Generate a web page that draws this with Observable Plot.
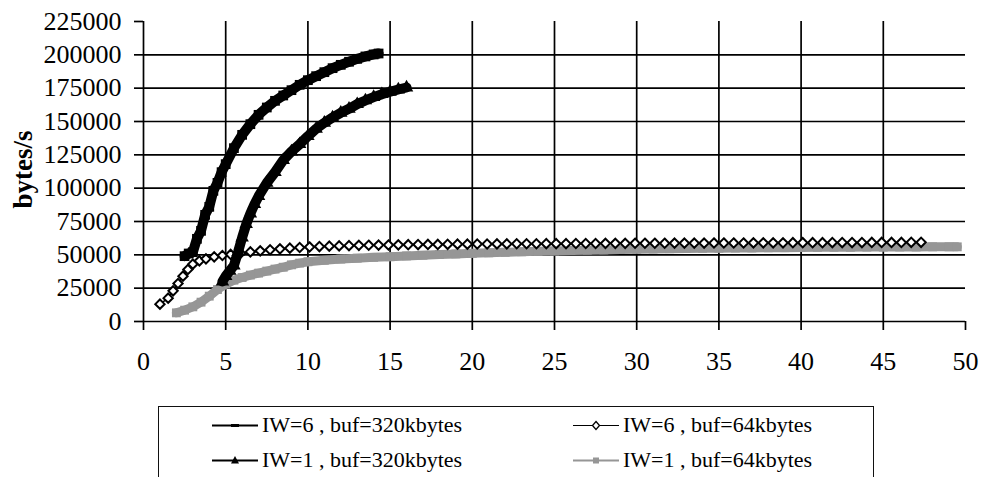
<!DOCTYPE html>
<html><head><meta charset="utf-8">
<script src="https://cdn.jsdelivr.net/npm/d3@7"></script>
<script src="https://cdn.jsdelivr.net/npm/@observablehq/plot@0.6"></script>
<style>
body{margin:0;background:#fff;}
#wrap{position:relative;width:987px;height:477px;overflow:hidden;font-family:"Liberation Serif","Times New Roman",serif;background:#fff;}
#legend{position:absolute;left:158px;top:406px;width:716px;height:110px;border:1.5px solid #111;box-sizing:border-box;}
.item{position:absolute;display:flex;align-items:center;font-size:22px;white-space:nowrap;height:30px;color:#000;}
.item svg{margin-right:4px;}
</style></head><body>
<div id="wrap"><div id="chart"></div><div id="legend"></div></div>
<script>
// ---- data ----
const xTicks = [0, 5, 10, 15, 20, 25, 30, 35, 40, 45, 50];
const yTicks = [0, 25000, 50000, 75000, 100000, 125000, 150000, 175000, 200000, 225000];
const xGrid = [5, 10, 15, 20, 25, 30, 35, 40, 45];
const yGrid = [25000, 50000, 75000, 100000, 125000, 150000, 175000, 200000];

const seriesNames = ["IW=6 , buf=320kbytes", "IW=6 , buf=64kbytes", "IW=1 , buf=320kbytes", "IW=1 , buf=64kbytes"];

// IW=6, buf=320kbytes  [time, bytes/s]
const iw6buf320 = [[2.5,49000],[2.75,51000],[3.0,52000],[3.25,62000],[3.5,68000],[3.75,80000],[4.0,86000],[4.25,98000],[4.5,104000],[4.75,112000],[5.0,118000],[5.5,130000],[6.0,140000],[6.5,148000],[7.0,155000],[7.5,160500],[8.0,165500],[8.5,169500],[9.0,173500],[9.5,177500],[10.0,181000],[10.5,184000],[11.0,187000],[11.5,190000],[12.0,192500],[12.5,194800],[13.0,197000],[13.5,198800],[14.0,200300],[14.3,201000]];

// IW=6, buf=64kbytes
const iw6buf64 = [[1.0,13000],[1.5,17500],[1.8,23000],[2.1,28500],[2.4,34000],[2.7,39000],[3.0,43000],[3.4,45500],[3.8,47000],[4.3,48500],[4.8,49500],[5.3,50300],[5.9,51200],[6.5,52200],[7.1,53000],[7.7,53800],[8.3,54500],[8.9,55000],[9.5,55500],[10.1,55900],[10.7,56200],[11.3,56500],[11.9,56700],[12.5,56900],[13.1,57100],[13.7,57200],[14.3,57300],[14.9,57400],[15.5,57500],[16.1,57600],[16.7,57700],[17.3,57800],[17.9,57800],[18.5,57900],[19.1,58000],[19.7,58000],[20.3,58100],[20.9,58100],[21.5,58200],[22.1,58200],[22.7,58300],[23.3,58300],[23.9,58300],[24.5,58400],[25.1,58400],[25.7,58400],[26.3,58500],[26.9,58500],[27.5,58500],[28.1,58600],[28.7,58600],[29.3,58600],[29.9,58700],[30.5,58700],[31.1,58700],[31.7,58700],[32.3,58800],[32.9,58800],[33.5,58800],[34.1,58800],[34.7,58900],[35.3,58900],[35.9,58900],[36.5,58900],[37.1,59000],[37.7,59000],[38.3,59000],[38.9,59000],[39.5,59100],[40.1,59100],[40.7,59100],[41.3,59100],[41.9,59200],[42.5,59200],[43.1,59200],[43.7,59200],[44.3,59300],[44.9,59300],[45.5,59300],[46.1,59300],[46.7,59400],[47.3,59400]];

// IW=1, buf=320kbytes
const iw1buf320 = [[4.8,30000],[5.0,34000],[5.25,38000],[5.5,42000],[5.75,52000],[6.0,63000],[6.25,73000],[6.5,81000],[6.75,88000],[7.0,94000],[7.5,104000],[8.0,112000],[8.5,121000],[9.0,127500],[9.5,133000],[10.0,139000],[10.5,144500],[11.0,149000],[11.5,153000],[12.0,156500],[12.5,159500],[13.0,163000],[13.5,165800],[14.0,168300],[14.5,170500],[15.0,172300],[15.5,174000],[16.0,175500]];

// IW=1, buf=64kbytes
const iw1buf64 = [[2.0,6500],[2.5,8500],[3.0,11000],[3.5,14500],[4.0,19000],[4.5,24000],[5.0,28000],[5.5,31000],[6.0,33000],[6.5,34800],[7.0,36300],[7.5,37800],[8.0,39300],[8.5,40700],[9.0,42500],[9.5,43800],[10,44800],[11,45900],[12,46800],[13,47500],[14,48100],[15,48600],[16,49200],[17,49700],[18,50200],[19,50700],[20,51100],[21,51500],[22,51900],[23,52300],[24,52600],[25,52900],[26,53200],[27,53500],[28,53700],[29,54000],[30,54200],[31,54400],[32,54600],[33,54700],[34,54900],[35,55000],[36,55100],[37,55200],[38,55300],[39,55400],[40,55500],[41,55600],[42,55700],[43,55700],[44,55800],[45,55800],[46,55900],[47,55900],[48,56000],[49,56000],[49.5,56000]];

// ---- build ----
const rows = (pairs) => pairs.map(([t, v]) => ({t, v}));
const s6_320 = rows(iw6buf320), s6_64 = rows(iw6buf64), s1_320 = rows(iw1buf320), s1_64 = rows(iw1buf64);
const GRAY = "#969696";

const chart = Plot.plot({
  width: 987, height: 400,
  marginLeft: 143, marginRight: 22, marginTop: 21, marginBottom: 79,
  x: {domain: [0, 50]},
  y: {domain: [0, 225000]},
  style: {fontFamily: "'Liberation Serif', 'Times New Roman', serif", fontSize: "26px", background: "white", color: "black"},
  marks: [
    Plot.ruleY(yGrid, {x1: 0, x2: 50, stroke: "#000", strokeWidth: 1.7}),
    Plot.ruleX(xGrid, {y1: 0, y2: 225000, stroke: "#000", strokeWidth: 1.7}),
    Plot.ruleX([0], {y1: 0, y2: 225000, stroke: "#000", strokeWidth: 1.7}),
    Plot.ruleY([0], {x1: 0, x2: 50, stroke: "#000", strokeWidth: 1.7}),
    Plot.axisY({ticks: yTicks, tickSize: 9, tickPadding: 13, tickFormat: d3.format("d"), label: null, fontSize: 26, strokeWidth: 1.7}),
    Plot.axisX({ticks: xTicks, tickSize: 9, tickPadding: 21, tickFormat: d3.format("d"), label: null, fontSize: 26, strokeWidth: 1.7}),
    // IW=1, 64k (gray squares)
    Plot.line(s1_64, {x: "t", y: "v", stroke: GRAY, strokeWidth: 9}),
    Plot.dot(s1_64, {x: "t", y: "v", symbol: "square", fill: GRAY, r: 5}),
    // IW=6, 64k (diamonds)
    Plot.line(s6_64, {x: "t", y: "v", stroke: "#000", strokeWidth: 1.5}),
    Plot.dot(s6_64, {x: "t", y: "v", symbol: "diamond2", fill: "white", stroke: "#000", strokeWidth: 2, r: 4.2}),
    // IW=1, 320k (triangles)
    Plot.line(s1_320, {x: "t", y: "v", stroke: "#000", strokeWidth: 10}),
    Plot.dot(s1_320, {x: "t", y: "v", symbol: "triangle", fill: "#000", r: 5}),
    // IW=6, 320k
    Plot.line(s6_320, {x: "t", y: "v", stroke: "#000", strokeWidth: 10}),
    Plot.dot(s6_320, {x: "t", y: "v", symbol: "square", fill: "#000", r: 5.5}),
    Plot.text(["bytes/s"], {frameAnchor: "left", textAnchor: "middle", rotate: -90, dx: -120, dy: -2, fontWeight: "bold", fontSize: 27})
  ]
});
document.getElementById("chart").appendChild(chart);

// ---- legend ----
const legendSpecs = [
  {name: seriesNames[0], col: 0, row: 0, stroke: "#000", w: 2, marker: "dash"},
  {name: seriesNames[1], col: 1, row: 0, stroke: "#000", w: 1.2, marker: "diamond"},
  {name: seriesNames[2], col: 0, row: 1, stroke: "#000", w: 2, marker: "triangle"},
  {name: seriesNames[3], col: 1, row: 1, stroke: GRAY, w: 2, marker: "square"}
];
const legend = document.getElementById("legend");
for (const s of legendSpecs) {
  const div = document.createElement("div");
  div.className = "item";
  div.style.left = (s.col ? 414 : 53) + "px";
  div.style.top = (s.row ? 38 : 3) + "px";
  let m = "";
  if (s.marker === "dash") m = `<rect x="19" y="6" width="8" height="3" fill="#000"/>`;
  if (s.marker === "diamond") m = `<path d="M23,3.5 L26.5,7.5 L23,11.5 L19.5,7.5Z" fill="white" stroke="#000" stroke-width="1.3"/>`;
  if (s.marker === "triangle") m = `<path d="M23,3 L27,10.5 L19,10.5Z" fill="#000"/>`;
  if (s.marker === "square") m = `<rect x="20" y="4.5" width="6" height="6" fill="${GRAY}"/>`;
  div.innerHTML = `<svg width="46" height="15"><line x1="0" x2="46" y1="7.5" y2="7.5" stroke="${s.stroke}" stroke-width="${s.w}"/>${m}</svg><span>${s.name}</span>`;
  legend.appendChild(div);
}
</script>
</body></html>
